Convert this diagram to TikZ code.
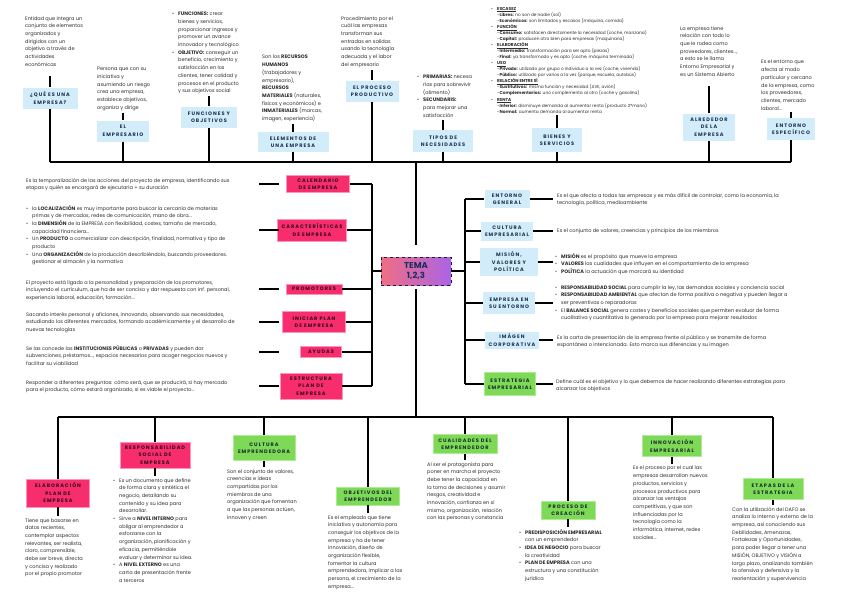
\documentclass[tikz,border=0pt]{standalone}
\usepackage{fontspec}
\setmainfont{Poppins}
\newfontfamily\titlefam[LetterSpace=20]{Poppins}
\usepackage{tikz}
\usetikzlibrary{positioning, calc}
\definecolor{mypink}{RGB}{247,45,110}
\definecolor{pinkedge}{RGB}{250,150,185}
\definecolor{pinktext}{RGB}{55,10,30}
\definecolor{myblue}{RGB}{210,236,250}
\definecolor{bluetext}{RGB}{25,50,80}
\definecolor{mygreen}{RGB}{126,217,87}
\definecolor{greenedge}{RGB}{175,235,150}
\definecolor{greentext}{RGB}{20,45,45}
\definecolor{temaleft}{RGB}{240,110,130}
\definecolor{temaright}{RGB}{170,100,230}
\definecolor{temadark}{RGB}{30,45,90}
\definecolor{txtgray}{RGB}{45,45,45}
\newcommand{\txtfont}{\fontsize{5}{7.7}\selectfont}
\newcommand{\smallfont}{\fontsize{4.3}{6.05}\selectfont}
\newcommand{\boxfont}{\titlefam\bfseries\fontsize{5}{7.5}\selectfont}
\newcommand{\bul}{\makebox[6pt][l]{\textbullet}}
\newcommand{\indt}{\hspace*{6pt}}
\tikzset{
  pinkbox/.style={rectangle, draw=pinkedge, fill=mypink, text=pinktext,
    font=\boxfont, align=center, inner sep=1pt, line width=0.6pt},
  bluebox/.style={rectangle, fill=myblue, text=bluetext,
    font=\boxfont, align=center, inner sep=1pt},
  greenbox/.style={rectangle, draw=greenedge, fill=mygreen, text=greentext,
    font=\boxfont, align=center, inner sep=1pt, line width=0.6pt},
  tema/.style={rectangle, draw=temadark!70!black, dashed, line width=0.9pt,
    left color=temaleft, right color=temaright, text=temadark,
    font=\bfseries\fontsize{8.5}{10.5}\selectfont, align=center},
  txt/.style={anchor=north west, inner xsep=0pt, inner ysep=2pt,
    align=left, font=\txtfont, text=txtgray},
  line/.style={line width=1.5pt, color=black}
}

\begin{document}
\begin{tikzpicture}[x=1pt, y=-1pt]
  \useasboundingbox (0,0) rectangle (848,600);

  % Centre
  \node[tema, minimum width=70pt, minimum height=28pt] (tema) at (416,271) {TEMA\\1,2,3};

  % Bus and spine positions
  \coordinate (topbus) at (0,162);
  \coordinate (botbus) at (0,417);
  \coordinate (lspine) at (372,0);
  \coordinate (rspine) at (465,0);
  \coordinate (lgap) at (259,0);
  \coordinate (lgapend) at (279,0);
  \coordinate (rgap) at (553,0);

  % Top boxes
  \node[bluebox, minimum width=55pt, minimum height=21pt] (que) at (50,98) {¿QUÉ ES UNA\\EMPRESA?};
  \node[bluebox, minimum width=52pt, minimum height=21pt] (emp) at (123,131) {EL\\EMPRESARIO};
  \node[bluebox, minimum width=56pt, minimum height=21pt] (fun) at (209,117) {FUNCIONES Y\\OBJETIVOS};
  \node[bluebox, minimum width=71pt, minimum height=20pt] (ele) at (293,142) {ELEMENTOS DE\\UNA EMPRESA};
  \node[bluebox, minimum width=53pt, minimum height=21pt] (pro) at (372,91) {EL PROCESO\\PRODUCTIVO};
  \node[bluebox, minimum width=60pt, minimum height=22pt] (tip) at (443,141) {TIPOS DE\\NECESIDADES};
  \node[bluebox, minimum width=50pt, minimum height=24pt] (bie) at (557,140) {BIENES Y\\SERVICIOS};
  \node[bluebox, minimum width=52pt, minimum height=27pt] (alr) at (709,127) {ALREDEDOR\\DE LA\\EMPRESA};
  \node[bluebox, minimum width=48pt, minimum height=22pt] (esp) at (791,129) {ENTORNO\\ESPECÍFICO};

  % Top texts
  \node[txt] (quetxt) at (25,14) {Entidad que integra un\\conjunto de elementos\\organizados y\\dirigidos con un\\objetivo a través de\\actividades\\económicas};
  \node[txt] (emptxt) at (97,65) {Persona que con su\\iniciativa y\\asumiendo un riesgo\\crea una empresa,\\establece objetivos,\\organiza y dirige};
  \node[txt] (funtxt) at (172,10) {\bul\textbf{FUNCIONES:} crear\\\indt bienes y servicios,\\\indt proporcionar ingresos y\\\indt promover un avance\\\indt innovador y tecnológico\\\bul\textbf{OBJETIVO:} conseguir un\\\indt beneficio, crecimiento y\\\indt satisfacción en los\\\indt clientes, tener calidad y\\\indt procesos en el producto\\\indt y sus objetivos social};
  \node[txt] (eletxt) at (262,53) {Son los \textbf{RECURSOS}\\\textbf{HUMANOS}\\(trabajadores y\\empresario),\\\textbf{RECURSOS}\\\textbf{MATERIALES} (naturales,\\físicos y económicos) e\\\textbf{INMATERIALES} (marcas,\\imagen, experiencia)};
  \node[txt] (protxt) at (341,14) {Procedimiento por el\\cuál las empresas\\transforman sus\\entradas en salidas\\usando la tecnología\\adecuada y el labor\\del empresario};
  \node[txt] (tiptxt) at (417,73) {\bul\textbf{PRIMARIAS:} necesa\\\indt rias para sobrevivir\\\indt (alimento)\\\bul\textbf{SECUNDARIS:}\\\indt para mejorar una\\\indt satisfacción};
  \node[txt, font=\smallfont] (bietxt) at (491,5) {\bul\underline{\textbf{ESCASEZ}}\\
    \indt-\textbf{Libres:} no son de nadie (sol)\\
    \indt-\textbf{Económicos:} son limitados y escasos (máquina, comida)\\
    \bul\underline{\textbf{FUNCIÓN}}\\
    \indt-\textbf{Consumo:} satisfacen directamente la necesidad (coche, manzana)\\
    \indt-\textbf{Capital:} producen otro bien para empresas (maquinaria)\\
    \bul\underline{\textbf{ELABORACIÓN}}\\
    \indt-\textbf{Intermedio:} transformación para ser apto (piezas)\\
    \indt-\textbf{Final:} ya transformado y es apto (coche, máquina terminada)\\
    \bul\underline{\textbf{USO}}\\
    \indt-\textbf{Privado:} utilizado por grupo o individuo a la vez (coche, vivienda)\\
    \indt-\textbf{Público:} utilizado por varios a la vez (parque, escuela, autobús)\\
    \bul\underline{\textbf{RELACIÓN ENTRE SÍ}}\\
    \indt-\textbf{Sustitutivos:} misma función y necesidad (AVE, avión)\\
    \indt-\textbf{Complementarios:} uno complementa al otro (coche y gasolina)\\
    \bul\underline{\textbf{RENTA}}\\
    \indt-\textbf{Inferior:} disminuye demanda al aumentar renta (producto 2ªmano)\\
    \indt-\textbf{Normal:} aumenta demanda al aumentar renta};
  \node[txt] (alrtxt) at (680,24) {La empresa tiene\\relación con todo lo\\que le rodea como\\proveedores, clientes...,\\a esto se le llama\\Entorno Empresarial y\\es un Sistema Abierto};
  \node[txt] (esptxt) at (761,58) {Es el entorno que\\afecta al modo\\particular y cercano\\de la empresa, como\\los proveedores,\\clientes, mercado\\laboral...};

  % Left boxes
  \node[pinkbox, minimum width=63pt, minimum height=17pt] (cal) at (318,184) {CALENDARIO\\DE EMPRESA};
  \node[pinkbox, minimum width=69pt, minimum height=22pt] (car) at (312,230) {CARACTERÍSTICAS\\DE EMPRESA};
  \node[pinkbox, minimum width=56pt, minimum height=10pt] (prom) at (314,289) {PROMOTORES};
  \node[pinkbox, minimum width=63pt, minimum height=21pt] (ini) at (314,322) {INICIAR PLAN\\DE EMPRESA};
  \node[pinkbox, minimum width=41pt, minimum height=11pt] (ayu) at (321,352) {AYUDAS};
  \node[pinkbox, minimum width=62pt, minimum height=26pt] (estr) at (311,386) {ESTRUCTURA\\PLAN DE\\EMPRESA};

  % Left texts
  \node[txt] (caltxt) at (26,176) {Es la temporalización de las acciones del proyecto de empresa, identificando sus\\etapas y quién se encargará de ejecutarla + su duración};
  \node[txt] (cartxt) at (26,203) {\bul la \textbf{LOCALIZACIÓN} es muy importante para buscar la cercanía de materias\\\indt primas y de mercados, redes de comunicación, mano de obra...\\\bul la \textbf{DIMENSIÓN} de la EMPRESA con flexibilidad, costes, tamaño de mercado,\\\indt capacidad financiera...\\\bul Un \textbf{PRODUCTO} a comercializar con descripción, finalidad, normativa y tipo de\\\indt producto\\\bul Una \textbf{ORGANIZACIÓN} de la producción describiéndolo, buscando proveedores.\\\indt gestionar el almacén y la normativa};
  \node[txt] (promtxt) at (26,278) {El proyecto está ligado a la personalidad y preparación de los promotores,\\incluyendo el currículum, que ha de ser conciso y dar respuesta con inf. personal,\\experiencia laboral, educación, formación...};
  \node[txt] (initxt) at (26,310) {Sacando interés personal y aficiones, innovando, observando sus necesidades,\\estudiando los diferentes mercados, formando académicamente y el desarrollo de\\nuevas tecnologías};
  \node[txt] (ayutxt) at (26,343) {Se las concede las \textbf{INSTITUCIONES PÚBLICAS} o \textbf{PRIVADAS} y pueden dar\\subvenciones, préstamos..., espacios necesarios para acoger negocios nuevos y\\facilitar su viabilidad};
  \node[txt] (estrtxt) at (26,378) {Responder a diferentes preguntas: cómo será, que se producirá, si hay mercado\\para el producto, cómo estará organizado, si es viable el proyecto...};

  % Right boxes
  \node[bluebox, minimum width=45pt, minimum height=18pt] (eng) at (507,199) {ENTORNO\\GENERAL};
  \node[bluebox, minimum width=52pt, minimum height=19pt] (cul) at (507,231) {CULTURA\\EMPRESARIAL};
  \node[bluebox, minimum width=58pt, minimum height=28pt] (mis) at (509,262) {MISIÓN,\\VALORES Y\\POLÍTICA};
  \node[bluebox, minimum width=52pt, minimum height=22pt] (ent) at (509,303) {EMPRESA EN\\SU ENTORNO};
  \node[bluebox, minimum width=54pt, minimum height=17pt] (ima) at (512,340) {IMÁGEN\\CORPORATIVA};
  \node[greenbox, minimum width=51pt, minimum height=23pt] (estE) at (510,384) {ESTRATEGIA\\EMPRESARIAL};

  % Right texts
  \node[txt] (engtxt) at (557,191) {Es el que afecta a todas las empresas y es más difícil de controlar, como la economía, la\\tecnología, política, medioambiente};
  \node[txt] (cultxt) at (557,226) {Es el conjunto de valores, creencias y principios de los miembros};
  \node[txt] (mistxt) at (555,251) {\bul\textbf{MISIÓN} es el propósito que mueve la empresa\\\bul\textbf{VALORES} las cualidades que influyen en el comportamiento de la empresa\\\bul\textbf{POLÍTICA} la actuación que marcará su identidad};
  \node[txt] (enttxt) at (555,283) {\bul\textbf{RESPONSABILIDAD SOCIAL} para cumplir la ley, las demandas sociales y conciencia social\\\bul\textbf{RESPONSABILIDAD AMBIENTAL} que afectan de forma positiva o negativa y pueden llegar a\\\indt ser preventivas o reparadoras\\\bul El \textbf{BALANCE SOCIAL} genera costes y beneficios sociales que permiten evaluar de forma\\\indt cualitativa y cuantitativa lo generado por la empresa para mejorar resultados};
  \node[txt] (imatxt) at (557,333) {Es la carta de presentación de la empresa frente al público y se transmite de forma\\espontánea o intencionada. Esto marca sus diferencias y su imagen};
  \node[txt] (estEtxt) at (556,377) {Define cuál es el objetivo y lo que debemos de hacer realizando diferentes estrategias para\\alcanzar los objetivos};

  % Bottom boxes
  \node[pinkbox, minimum width=63pt, minimum height=28pt] (ela) at (58,493) {ELABORACIÓN\\PLAN DE\\EMPRESA};
  \node[pinkbox, minimum width=70pt, minimum height=26pt] (res) at (155,455) {RESPONSABILIDAD\\SOCIAL DE\\EMPRESA};
  \node[greenbox, minimum width=62pt, minimum height=25pt] (cuE) at (264,448) {CULTURA\\EMPRENDEDORA};
  \node[greenbox, minimum width=63pt, minimum height=18pt] (obj) at (368,496) {OBJETIVOS DEL\\EMPRENDEDOR};
  \node[greenbox, minimum width=64pt, minimum height=19pt] (cua) at (465,444) {CUALIDADES DEL\\EMPRENDEDOR};
  \node[greenbox, minimum width=54pt, minimum height=18pt] (pc) at (568,510) {PROCESO DE\\CREACIÓN};
  \node[greenbox, minimum width=59pt, minimum height=21pt] (inn) at (672,446) {INNOVACIÓN\\EMPRESARIAL};
  \node[greenbox, minimum width=60pt, minimum height=21pt] (eta) at (773,489) {ETAPAS DE LA\\ESTRATEGIA};

  % Bottom texts
  \node[txt] (elatxt) at (25,516) {Tiene que basarse en\\datos recientes,\\contemplar aspectos\\relevantes, ser realista,\\claro, comprensible,\\debe ser breve, directa\\y concisa y realizado\\por el propio promotor};
  \node[txt] (restxt) at (113,476) {\bul Es un documento que define\\\indt de forma clara y sintética el\\\indt negocio, detallando su\\\indt contenido y su idea para\\\indt desarrollar.\\\bul Sirve a \textbf{NIVEL INTERNO} para\\\indt obligar al emprendedor a\\\indt esforzarse con la\\\indt organización, planificación y\\\indt eficacia, permitiéndole\\\indt evaluar y determinar su idea.\\\bul A \textbf{NIVEL EXTERNO} es una\\\indt carta de presentación frente\\\indt a terceros};
  \node[txt] (cuEtxt) at (227,467) {Son el conjunto de valores,\\creencias e ideas\\compartidas por los\\miembros de una\\organización que fomentan\\a que las personas actúen,\\innoven y creen};
  \node[txt] (objtxt) at (328,513) {Es el empleado que tiene\\iniciativa y autonomía para\\conseguir los objetivos de la\\empresa y ha de tener\\innovación, diseño de\\organización flexible,\\fomentar la cultura\\emprendedora, implicar a las\\persona, el crecimiento de la\\empresa...};
  \node[txt] (cuatxt) at (427,460) {Al ser el protagonista para\\poner en marcha el proyecto\\debe tener la capacidad en\\la toma de decisiones y asumir\\riesgos, creatividad e\\innovación, confianza en sí\\mismo, organización, relación\\con las personas y constancia};
  \node[txt] (pctxt) at (519,527) {\bul\textbf{PREDISPOSICIÓN EMPRESARIAL}\\\indt con un emprendedor\\\bul\textbf{IDEA DE NEGOCIO} para buscar\\\indt la creatividad\\\bul\textbf{PLAN DE EMPRESA} con una\\\indt estructura y una constitución\\\indt jurídica};
  \node[txt] (inntxt) at (633,464) {Es el proceso por el cual las\\empresas desarrollan nuevos\\productos, servicios y\\procesos productivos para\\alcanzar las ventajas\\competitivas, y que son\\influenciadas por la\\tecnología como la\\informática, internet, redes\\sociales...};
  \node[txt] (etatxt) at (732,505) {Con la utilización del DAFO se\\analiza lo interno y externo de la\\empresa, así conociendo sus\\Debilidades, Amenazas,\\Fortalezas y Oportunidades,\\para poder llegar a tener una\\MISIÓN, OBJETIVO y VISIÓN a\\largo plazo, analizando también\\la ofensiva y defensiva y la\\reorientación y supervivencia};

  % Top bus
  \draw[line] (que.south |- topbus) -- (esp.south |- topbus);
  \draw[line] (que.south) -- (que.south |- topbus);
  \draw[line] (emp.south) -- (emp.south |- topbus);
  \draw[line] (fun.south) -- (fun.south |- topbus);
  \draw[line] (ele.south) -- (ele.south |- topbus);
  \draw[line] (pro.south) -- (pro.south |- topbus);
  \draw[line] (tip.south) -- (tip.south |- topbus);
  \draw[line] (bie.south) -- (bie.south |- topbus);
  \draw[line] (alr.south) -- (alr.south |- topbus);
  \draw[line] (esp.south) -- (esp.south |- topbus);
  \draw[line, shorten <=12pt] (tema.north) -- (tema.north |- topbus);

  % Texts to top boxes
  \draw[line, shorten >=8pt] (que.north) -- (que.north |- quetxt.south);
  \draw[line] (emp.north) -- (emp.north |- emptxt.south);
  \draw[line] (fun.north) -- (fun.north |- funtxt.south);
  \draw[line] (ele.north) -- (ele.north |- eletxt.south);
  \draw[line] (pro.north) -- (pro.north |- protxt.south);
  \draw[line] (tip.north) -- (tip.north |- tiptxt.south);
  \draw[line] (bie.north) -- (bie.north |- bietxt.south);
  \draw[line, shorten >=8pt] (alr.north) -- (alr.north |- alrtxt.south);
  \draw[line] (esp.north) -- (esp.north |- esptxt.south);

  % Left spine
  \draw[line] (tema.west) -- (tema.west -| lspine);
  \draw[line] (cal.east -| lspine) -- (estr.east -| lspine);
  \draw[line] (cal.east) -- (cal.east -| lspine);
  \draw[line] (car.east) -- (car.east -| lspine);
  \draw[line] (prom.east) -- (prom.east -| lspine);
  \draw[line] (ini.east) -- (ini.east -| lspine);
  \draw[line] (ayu.east) -- (ayu.east -| lspine);
  \draw[line] (estr.east) -- (estr.east -| lspine);
  \draw[line] (lgap |- cal) -- (lgapend |- cal);
  \draw[line] (lgap |- car) -- (lgapend |- car);
  \draw[line] (lgap |- prom) -- (lgapend |- prom);
  \draw[line] (lgap |- ini) -- (lgapend |- ini);
  \draw[line] (lgap |- ayu) -- (lgapend |- ayu);
  \draw[line] (lgap |- estr) -- (lgapend |- estr);

  % Right spine
  \draw[line] (tema.east) -- (tema.east -| rspine);
  \draw[line] (eng.west -| rspine) -- (estE.west -| rspine);
  \draw[line] (eng.west) -- (eng.west -| rspine);
  \draw[line] (cul.west) -- (cul.west -| rspine);
  \draw[line] (mis.west) -- (mis.west -| rspine);
  \draw[line] (ent.west) -- (ent.west -| rspine);
  \draw[line] (ima.west) -- (ima.west -| rspine);
  \draw[line] (estE.west) -- (estE.west -| rspine);
  \draw[line] (eng.east) -- (rgap |- eng);
  \draw[line] (cul.east) -- (rgap |- cul);
  \draw[line] (mis.east) -- (rgap |- mis);
  \draw[line] (ent.east) -- (rgap |- ent);
  \draw[line] (ima.east) -- (rgap |- ima);
  \draw[line] (estE.east) -- (rgap |- estE);

  % Bottom bus
  \draw[line, shorten <=4pt] (tema.south) -- (tema.south |- botbus);
  \draw[line] (ela.north |- botbus) -- (eta.north |- botbus);
  \draw[line] (ela.north) -- (ela.north |- botbus);
  \draw[line] (res.north) -- (res.north |- botbus);
  \draw[line] (cuE.north) -- (cuE.north |- botbus);
  \draw[line] (obj.north) -- (obj.north |- botbus);
  \draw[line] (cua.north) -- (cua.north |- botbus);
  \draw[line] (pc.north) -- (pc.north |- botbus);
  \draw[line] (inn.north) -- (inn.north |- botbus);
  \draw[line] (eta.north) -- (eta.north |- botbus);

  % Bottom boxes to texts
  \draw[line] (ela.south) -- (ela.south |- elatxt.north);
  \draw[line] (res.south) -- (res.south |- restxt.north);
  \draw[line] (cuE.south) -- (cuE.south |- cuEtxt.north);
  \draw[line] (obj.south) -- (obj.south |- objtxt.north);
  \draw[line] (cua.south) -- (cua.south |- cuatxt.north);
  \draw[line] (pc.south) -- (pc.south |- pctxt.north);
  \draw[line] (inn.south) -- (inn.south |- inntxt.north);
  \draw[line] (eta.south) -- (eta.south |- etatxt.north);
\end{tikzpicture}
\end{document}
